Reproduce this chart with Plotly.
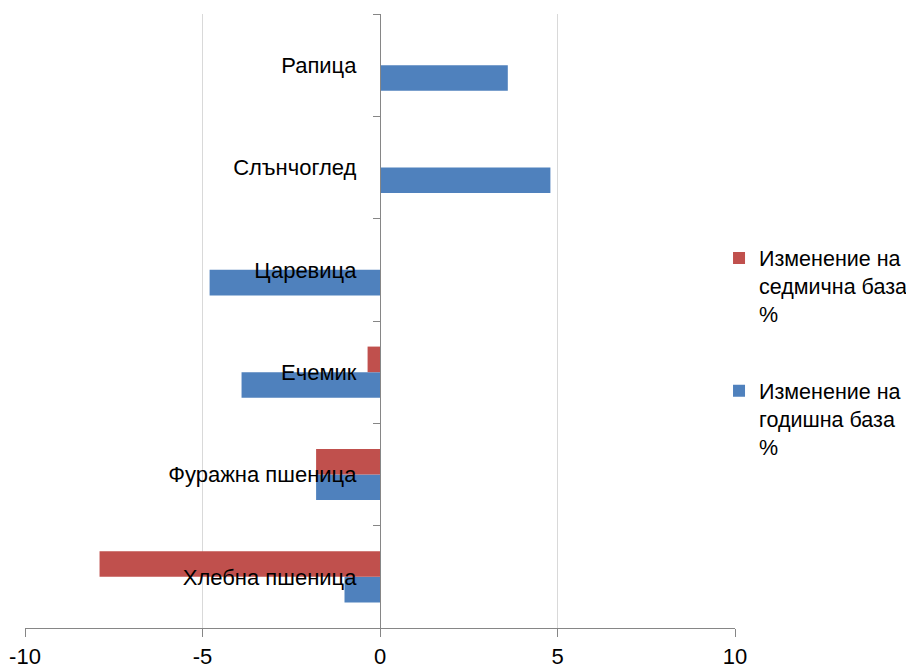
import plotly.graph_objects as go

categories = ["Хлебна пшеница", "Фуражна пшеница", "Ечемик", "Царевица", "Слънчоглед", "Рапица"]
weekly_change = [-7.9, -1.8, -0.35, 0.0, 0.0, 0.0]
yearly_change = [-1.0, -1.8, -3.9, -4.8, 4.8, 3.6]
weekly_name = "Изменение на<br>седмична база<br>%"
yearly_name = "Изменение на<br>годишна база<br>%"
x_ticks = [-10, -5, 0, 5, 10]

FONT = "Liberation Sans, Arial, sans-serif"

fig = go.Figure()
fig.add_trace(go.Bar(y=categories, x=yearly_change, orientation="h", name=yearly_name,
                     marker=dict(color="#4F81BD", line=dict(width=0)),
                     legendgroup="yearly", legendrank=2))
fig.add_trace(go.Bar(y=categories, x=weekly_change, orientation="h", name=weekly_name,
                     marker=dict(color="#C0504D", line=dict(width=0)),
                     legendgroup="weekly", legendrank=1))

fig.update_layout(
    width=914, height=671,
    margin=dict(l=17, r=187, t=6, b=51, autoexpand=False),
    paper_bgcolor="white", plot_bgcolor="white",
    barmode="group", bargap=0.5, bargroupgap=0,
    font=dict(family=FONT, size=22, color="black"),
    showlegend=True,
    legend=dict(x=0.9775, y=0.636, xanchor="left", yanchor="top",
                traceorder="grouped", tracegroupgap=46,
                valign="top", font=dict(size=21.5), itemwidth=30),
    xaxis=dict(range=[-10, 10], tickvals=x_ticks, ticktext=[str(v) for v in x_ticks],
               showgrid=True, gridcolor="#D9D9D9", gridwidth=1.3, zeroline=False,
               showline=True, linecolor="#868686", linewidth=1.3,
               ticks="outside", ticklen=8, tickcolor="#868686", tickwidth=1.3,
               tickfont=dict(size=22), domain=[0, 1], automargin=False),
    yaxis=dict(type="category", anchor="free", position=0.5,
               showgrid=False, zeroline=False,
               showline=True, linecolor="#868686", linewidth=1.3,
               ticks="outside", ticklen=7, tickcolor="#868686", tickwidth=1.3,
               tickson="boundaries", ticklabelstandoff=19,
               tickfont=dict(size=22), automargin=False),
)

fig.write_html("out.html")
